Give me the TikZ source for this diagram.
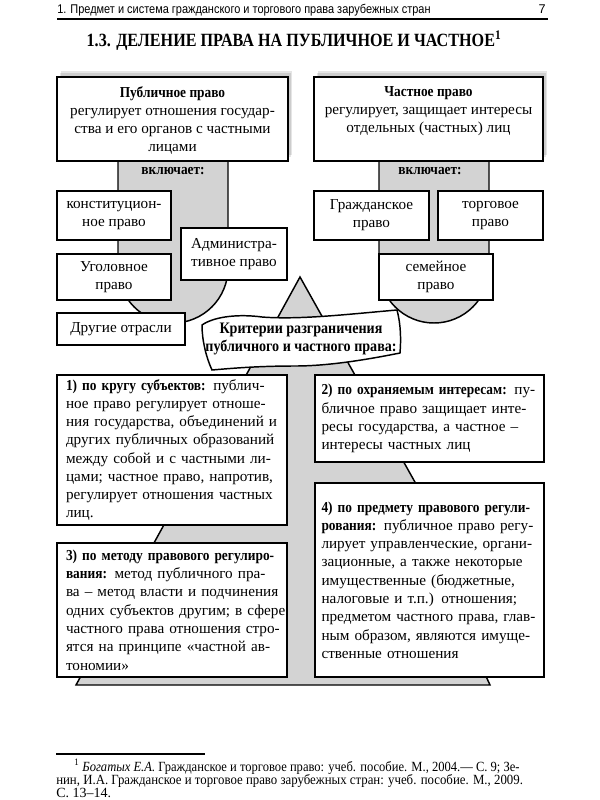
\documentclass[tikz,border=0pt]{standalone}
\usepackage{fontspec}
\setmainfont{Liberation Serif}[BoldFeatures={FakeStretch=0.88}]
\newfontfamily\hdrfont{Liberation Sans}
\usepackage{graphicx}
\usetikzlibrary{shadows}
\definecolor{greyfill}{RGB}{211,211,211}
\newcommand\jl[1]{\makebox[\linewidth][s]{#1}}
\begin{document}
\begin{tikzpicture}[x=0.75pt,y=-0.75pt,
  box/.style={draw, line width=1.1pt, fill=white, inner sep=0pt},
  sz/.style 2 args={minimum width=#1*0.75pt, minimum height=#2*0.75pt},
  lbl/.style={font=\fontsize{11.4}{13.7}\selectfont, align=center, inner sep=0pt},
  para/.style={font=\fontsize{11.4}{13.7}\selectfont, align=left, inner sep=0pt},
  greyshape/.style={fill=greyfill, draw, line width=1.1pt},
  topshadow/.style={general shadow={fill=black, opacity=0.1, shadow xshift=2pt, shadow yshift=3pt},
                    general shadow={fill=black, opacity=0.1, shadow xshift=3pt, shadow yshift=4.5pt}},
  banner/.style={draw, line width=1.1pt, fill=white},
  hdrtext/.style={inner sep=0pt, font=\hdrfont\fontsize{9.5}{11}\selectfont},
  fntext/.style={inner sep=0pt, anchor=base west, font=\fontsize{10.5}{12}\selectfont}
]
\useasboundingbox (0,0) rectangle (600,800);
\fill[white] (0,0) rectangle (600,800);

% header
\node[hdrtext, anchor=base west] (hdr) at (57,13.5) {\resizebox{280pt}{\height}{1. Предмет и система гражданского и торгового права зарубежных стран}};
\node[hdrtext, anchor=base east] (pg) at (546,13.5) {7};
\draw[line width=1.1pt] (57,19) -- (548,19);

% title
\node[inner sep=0pt, anchor=base, font=\bfseries\fontsize{14}{16}\selectfont] (title) at (294,46) {\resizebox{311pt}{\height}{1.3. ДЕЛЕНИЕ ПРАВА НА ПУБЛИЧНОЕ И ЧАСТНОЕ\textsuperscript{1}}};

% grey backgrounds
\draw[greyshape] (300,277) -- (76,685) -- (490,685) -- (484,672) -- (425,500) -- cycle;
\draw[greyshape] (118,161) -- (118,268) arc[start angle=180, end angle=360, radius=41.25pt] -- (228,161);
\draw[greyshape] (379,161) -- (379,268) arc[start angle=180, end angle=360, radius=41.25pt] -- (489,161);

% top boxes
\node[box, topshadow, sz={231}{84}] (pub) at (172.5,119) {};
\node[box, topshadow, sz={229}{84}] (priv) at (428.5,119) {};
\node[lbl, anchor=north] (pubt) at (172.5,86) {\textbf{Публичное право}\\регулирует отношения государ-\\ства и его органов с частными\\лицами};
\node[lbl, anchor=north] (privt) at (428.5,86) {\textbf{Частное право}\\регулирует, защищает интересы\\отдельных (частных) лиц};
\node[lbl] (vkl1) at (173,171) {\textbf{включает:}};
\node[lbl] (vkl2) at (430,171) {\textbf{включает:}};

% branch boxes
\node[box, lbl, sz={114}{49}] (konst) at (114,215.5) {конституцион-\\ное право};
\node[box, lbl, sz={114}{46}] (ugol) at (114,277) {Уголовное\\право};
\node[box, lbl, sz={128}{32}] (drug) at (121,329) {Другие отрасли};
\node[box, lbl, sz={106}{52}] (admin) at (234,254) {Администра-\\тивное право};
\node[box, lbl, sz={115}{49}] (grazh) at (371.5,215.5) {Гражданское\\право};
\node[box, lbl, sz={105}{49}] (torg) at (490.5,215.5) {торговое\\право};
\node[box, lbl, sz={114}{46}] (sem) at (436,277) {семейное\\право};

% banner
\draw[banner] (202,325) .. controls (215,316) and (240,314) .. (262,317)
  .. controls (300,320) and (350,314) .. (397,310)
  .. controls (401,325) and (401,340) .. (400,353)
  .. controls (370,359) and (330,366) .. (295,366)
  .. controls (260,366) and (235,368) .. (212,370)
  .. controls (206,357) and (202,340) .. cycle;
\node[inner sep=0pt, align=center, font=\bfseries\fontsize{12}{13.5}\selectfont] (crit) at (301,339) {Критерии разграничения\\публичного и частного права:};

% criteria boxes
\node[box, para, sz={230}{150}, text width=159pt] (c1) at (172,450) {%
\jl{\textbf{1) по кругу субъектов:} публич-}\\
\jl{ное право регулирует отноше-}\\
\jl{ния государства, объединений и}\\
\jl{других публичных образований}\\
\jl{между собой и с частными ли-}\\
\jl{цами; частное право, напротив,}\\
\jl{регулирует отношения частных}\\
лиц.};
\node[box, para, sz={229}{87}, text width=162pt] (c2) at (429.5,418.5) {%
\jl{\textbf{2) по охраняемым интересам:} пу-}\\
\jl{бличное право защищает инте-}\\
\jl{ресы государства, а частное –}\\
интересы частных лиц};
\node[box, para, sz={230}{134}, text width=159pt] (c3) at (172,610) {%
\jl{\textbf{3) по методу правового регулиро-}}\\
\jl{\textbf{вания:} метод публичного пра-}\\
\jl{ва – метод власти и подчинения}\\
\jl{одних субъектов другим; в сфере}\\
\jl{частного права отношения стро-}\\
\jl{ятся на принципе «частной ав-}\\
тономии»};
\node[box, para, sz={229}{194}, text width=162pt] (c4) at (429.5,580) {%
\jl{\textbf{4) по предмету правового регули-}}\\
\jl{\textbf{рования:} публичное право регу-}\\
\jl{лирует управленческие, органи-}\\
\jl{зационные, а также некоторые}\\
\jl{имущественные (бюджетные,}\\
\jl{налоговые и т.п.) отношения;}\\
\jl{предметом частного права, глав-}\\
\jl{ным образом, являются имуще-}\\
ственные отношения};

% footnote
\draw[line width=0.9pt] (56,754) -- (205,754);
\node[fntext] (fn1) at (74,771) {\resizebox{334pt}{\height}{\textsuperscript{1} \textit{Богатых Е.А.} Гражданское и торговое право: учеб. пособие. М., 2004.— С. 9; Зе-}};
\node[fntext] (fn2) at (56,784) {\resizebox{350pt}{\height}{нин, И.А. Гражданское и торговое право зарубежных стран: учеб. пособие. М., 2009.}};
\node[fntext] (fn3) at (56,797) {С. 13–14.};
\end{tikzpicture}
\end{document}
